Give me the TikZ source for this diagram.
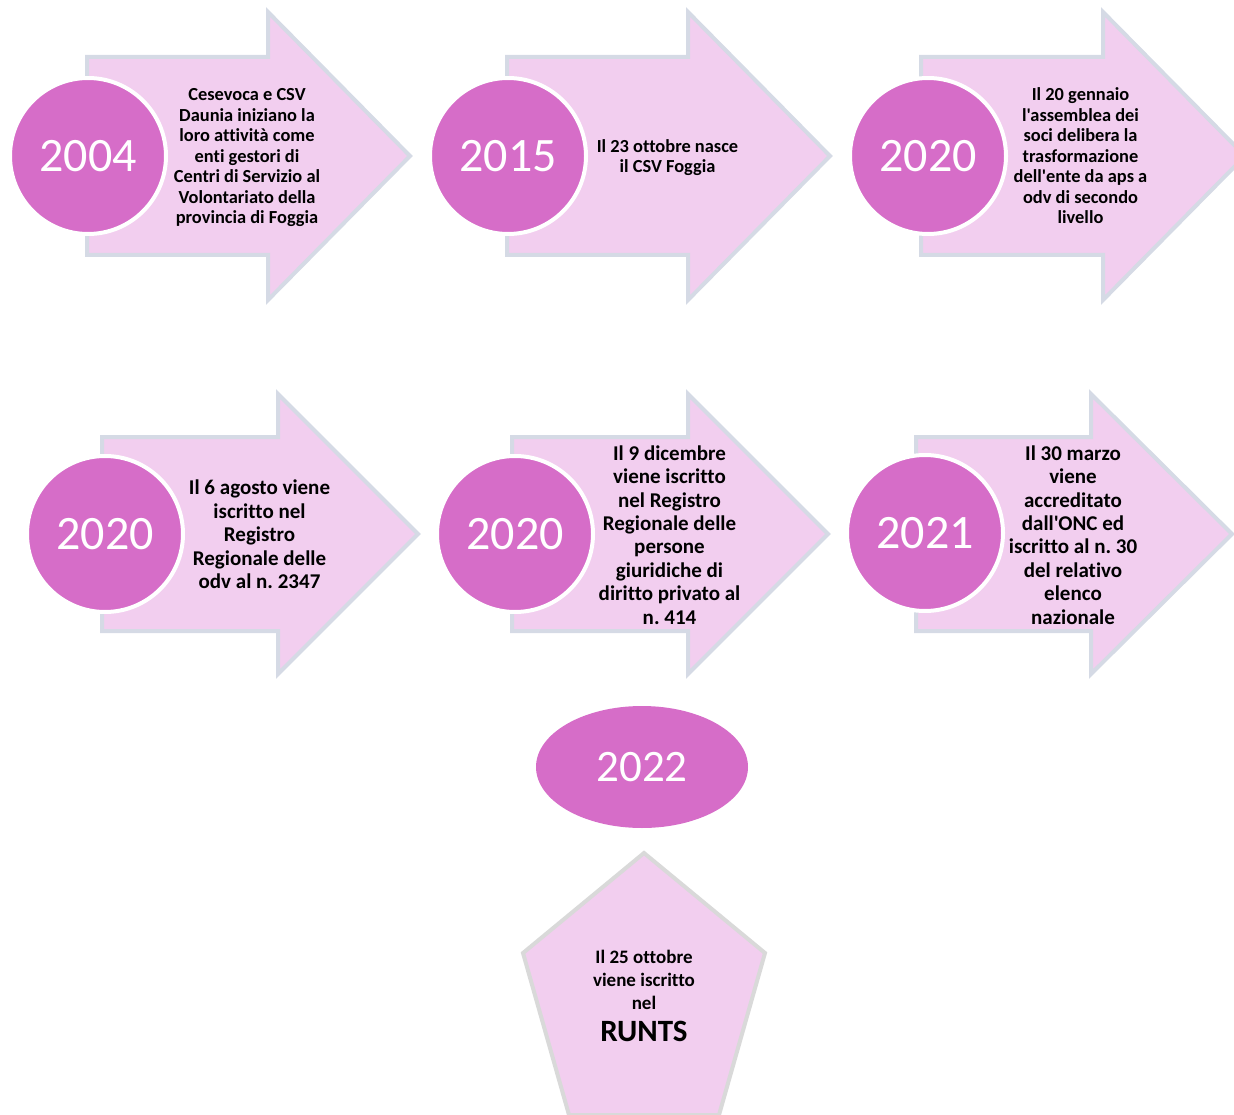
\documentclass[tikz,border=0pt]{standalone}
\usepackage{fontspec}
\setmainfont{Carlito}[Ligatures={TeXOff,CommonOff}]
\usetikzlibrary{shapes.geometric}
\definecolor{arrowfill}{HTML}{F2CEEF}
\definecolor{arrowline}{HTML}{D5DAE5}
\definecolor{yearfill}{HTML}{D66DC8}
\definecolor{pentline}{HTML}{D9D9D9}
\tikzset{
  arrowbody/.style={fill=arrowfill,draw=arrowline,line width=4pt,line join=miter},
  yearcircle/.style={circle,fill=yearfill,draw=white,line width=4pt,minimum size=156pt,inner sep=0pt,text=white,font=\fontsize{48}{50}\selectfont},
  yearoval/.style={ellipse,fill=yearfill,minimum width=212pt,minimum height=122pt,inner sep=0pt,text=white,font=\fontsize{45}{48}\selectfont},
  textsmall/.style={align=center,inner sep=0pt,font=\frenchspacing\bfseries\fontsize{18.4}{20.5}\selectfont},
  textlarge/.style={align=center,inner sep=0pt,font=\frenchspacing\bfseries\fontsize{21}{23.4}\selectfont},
  pentshape/.style={fill=arrowfill,draw=pentline,line width=4pt,line join=miter}
}
% #1 left, #2 head x, #3 tip x, #4 cy, #5 body half, #6 head half
\newcommand\tlarrow[6]{%
  \draw[arrowbody] (#1,#4-#5) -- (#2,#4-#5) -- (#2,#4-#6) -- (#3,#4) -- (#2,#4+#6) -- (#2,#4+#5) -- (#1,#4+#5) -- cycle;}
\begin{document}
\begin{tikzpicture}[x=1pt,y=-1pt]
\useasboundingbox (0,0) rectangle (1234,1115);
% row 1
\tlarrow{87}{268}{410}{156}{99}{144}
\tlarrow{507}{688}{830}{156}{99}{144}
\tlarrow{921}{1103}{1245}{156}{99}{144}
\node[yearcircle] (y1) at (88,156) {2004};
\node[yearcircle] (y2) at (508,156) {2015};
\node[yearcircle] (y3) at (928,156) {2020};
\node[textsmall] (t1) at (247,158) {Cesevoca e CSV\\Daunia iniziano la\\loro attività come\\enti gestori di\\Centri di Servizio al\\Volontariato della\\provincia di Foggia};
\node[textsmall] (t2) at (667.5,157.5) {Il 23 ottobre nasce\\il CSV Foggia};
\node[textsmall] (t3) at (1080.5,156) {Il 20 gennaio\\l'assemblea dei\\soci delibera la\\trasformazione\\dell'ente da aps a\\odv di secondo\\livello};
% row 2
\tlarrow{102}{278}{418}{534}{97}{140}
\tlarrow{512}{688}{828}{534}{97}{140}
\tlarrow{916}{1091}{1232}{534}{97}{140}
\node[yearcircle] (y4) at (105,534) {2020};
\node[yearcircle] (y5) at (515,534) {2020};
\node[yearcircle] (y6) at (925,533) {2021};
\node[textlarge] (t4) at (259.5,534.5) {Il 6 agosto viene\\iscritto nel\\Registro\\Regionale delle\\odv al n. 2347};
\node[textlarge] (t5) at (669.5,535) {Il 9 dicembre\\viene iscritto\\nel Registro\\Regionale delle\\persone\\giuridiche di\\diritto privato al\\n. 414};
\node[textlarge] (t6) at (1073,535) {Il 30 marzo\\viene\\accreditato\\dall'ONC ed\\iscritto al n. 30\\del relativo\\elenco\\nazionale};
% 2022
\node[yearoval] (y7) at (642,767) {2022};
\draw[pentshape] (644,853) -- (765,953) -- (719,1115) -- (569,1115) -- (523,953) -- cycle;
\node[align=center,inner sep=0pt,font=\frenchspacing\bfseries\fontsize{19}{23}\selectfont] (t7) at (644,996) {Il 25 ottobre\\viene iscritto\\nel\\[9pt]{\fontsize{31}{31}\selectfont RUNTS}};
\end{tikzpicture}
\end{document}
